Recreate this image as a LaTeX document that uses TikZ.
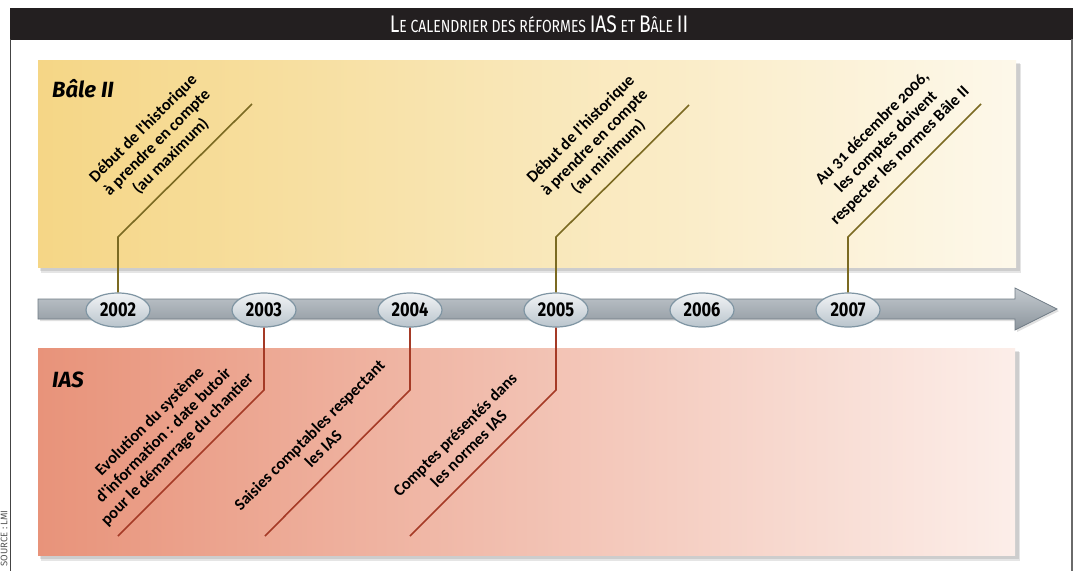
\documentclass[tikz,border=0pt]{standalone}
\usepackage{fontspec}
\setmainfont{Fira Sans}
\newfontfamily\labfont[Numbers=OldStyle]{Carlito}
\newfontfamily\yrfont[FakeStretch=0.82]{Fira Sans}
\newfontfamily\ttlfont[FakeStretch=0.80]{Fira Sans}
\usetikzlibrary{calc,shapes.geometric}
\definecolor{titleBg}{HTML}{231F20}
\definecolor{frameC}{HTML}{444444}
\definecolor{frameR}{HTML}{6A6A6A}
\definecolor{baleL}{HTML}{F5D686}
\definecolor{baleM}{HTML}{FAE8BB}
\definecolor{baleR}{HTML}{FDF8EA}
\definecolor{iasL}{HTML}{E8937A}
\definecolor{iasM}{HTML}{F4C6B6}
\definecolor{iasR}{HTML}{FCEEE9}
\definecolor{baleC}{HTML}{7B6A22}
\definecolor{iasC}{HTML}{A53A26}
\definecolor{arrT}{HTML}{C4CACF}
\definecolor{arrB}{HTML}{8C959D}
\definecolor{arrE}{HTML}{6F7B85}
\definecolor{ellC}{HTML}{7F95A3}
\definecolor{ellT}{HTML}{F2F4F6}
\definecolor{ellB}{HTML}{B9C4CC}
\definecolor{srcC}{HTML}{555555}
\newcommand{\tcap}[1]{{\fontsize{24}{24}\selectfont #1}}
\begin{document}
\begin{tikzpicture}[x=1pt,y=-1pt,
  yearbox/.style={ellipse, draw=ellC, line width=1.2pt, top color=ellT, bottom color=ellB,
    minimum width=64pt, minimum height=34pt, inner sep=0pt,
    font=\yrfont\bfseries\fontsize{20}{20}\selectfont},
  lbl/.style={rotate=45, anchor=south, align=center, inner sep=0pt,
    font=\labfont\bfseries\fontsize{16.5}{19.5}\selectfont},
  baleline/.style={draw=baleC, line width=1.6pt},
  iasline/.style={draw=iasC, line width=1.6pt},
  bandtitle/.style={anchor=base west, inner sep=0pt,
    font=\bfseries\itshape\fontsize{22}{22}\selectfont},
  shadowbox/.style={fill=black, opacity=0.10}
]
\useasboundingbox (0,0) rectangle (1077,571);
\fill[white] (0,0) rectangle (1077,571);
% frame and title
\fill[titleBg] (10,8) rectangle (1073,39.5);
\draw[frameC, line width=1pt] (10.5,39) -- (10.5,571);
\draw[frameR, line width=2pt] (1072,39) -- (1072,571);
\node[anchor=base, inner sep=0pt, text=white, font=\ttlfont\fontsize{17.5}{18}\selectfont] (title) at (539,32)
  {\tcap{L}E CALENDRIER DES RÉFORMES \tcap{IAS} ET \tcap{B}ÂLE \tcap{II}};
\node[rotate=90, anchor=east, inner sep=0pt, text=srcC, font=\fontsize{9.5}{10}\selectfont] (src) at (4,510) {SOURCE : LMI};
% bands
\fill[shadowbox] (40,63) rectangle (1020,271);
\fill[shadowbox] (41,64) rectangle (1021,273);
\fill[left color=baleL, middle color=baleM, right color=baleR] (38,60) rectangle (1016,267);
\fill[shadowbox] (40,351) rectangle (1019,559);
\fill[shadowbox] (41,352) rectangle (1020,561);
\fill[left color=iasL, middle color=iasM, right color=iasR] (38,348) rectangle (1015,555);
\node[bandtitle] (bale) at (52,97) {Bâle II};
\node[bandtitle] (ias) at (52,387) {IAS};
% arrow
\fill[black, opacity=0.12] (40,301) -- (1017,301) -- (1017,290) -- (1059,311) -- (1017,332) -- (1017,321) -- (40,321) -- cycle;
\path[top color=arrT, bottom color=arrB, draw=arrE, line width=0.8pt, line join=miter]
  (38,299) -- (1015,299) -- (1015,288) -- (1057,309) -- (1015,330) -- (1015,319) -- (38,319) -- cycle;
% years
\foreach \yr/\xx in {2002/118,2003/264,2004/410,2005/556,2006/702,2007/848}
  \node[yearbox] (y\yr) at (\xx,310) {\yr};
% Bale connectors
\coordinate (b2002) at (118,237); \coordinate (e2002) at (252,104);
\coordinate (b2005) at (556,237); \coordinate (e2005) at (689,105);
\coordinate (b2007) at (848,237); \coordinate (e2007) at (981,104);
\draw[baleline] (y2002.north) -- (b2002) -- (e2002);
\draw[baleline] (y2005.north) -- (b2005) -- (e2005);
\draw[baleline] (y2007.north) -- (b2007) -- (e2007);
% IAS connectors
\coordinate (c2003) at (264,390); \coordinate (f2003) at (118,536);
\coordinate (c2004) at (410,390); \coordinate (f2004) at (265,536);
\coordinate (c2005) at (556,390); \coordinate (f2005) at (410,536);
\draw[iasline] (y2003.south) -- (c2003) -- (f2003);
\draw[iasline] (y2004.south) -- (c2004) -- (f2004);
\draw[iasline] (y2005.south) -- (c2005) -- (f2005);
% labels
\path ($(b2002)!0.5!(e2002)$) ++(-6.5,-6.5) node[lbl] (t2002) {Début de l'historique\\à prendre en compte\\(au maximum)\strut};
\path ($(b2005)!0.5!(e2005)$) ++(-6.5,-6.5) node[lbl] (t2005) {Début de l'historique\\à prendre en compte\\(au minimum)\strut};
\path ($(b2007)!0.5!(e2007)$) ++(-7,-7) node[lbl] (t2007) {Au 31 décembre 2006,\\les comptes doivent\\respecter les normes Bâle II\strut};
\path ($(c2003)!0.5!(f2003)$) ++(-6,-6) node[lbl] (s2003) {Evolution du système\\d'information : date butoir\\pour le démarrage du chantier\strut};
\path ($(c2004)!0.5!(f2004)$) ++(-6,-6) node[lbl] (s2004) {Saisies comptables respectant\\les IAS\strut};
\path ($(c2005)!0.5!(f2005)$) ++(-6,-6) node[lbl] (s2005) {Comptes présentés dans\\les normes IAS\strut};
\end{tikzpicture}
\end{document}
